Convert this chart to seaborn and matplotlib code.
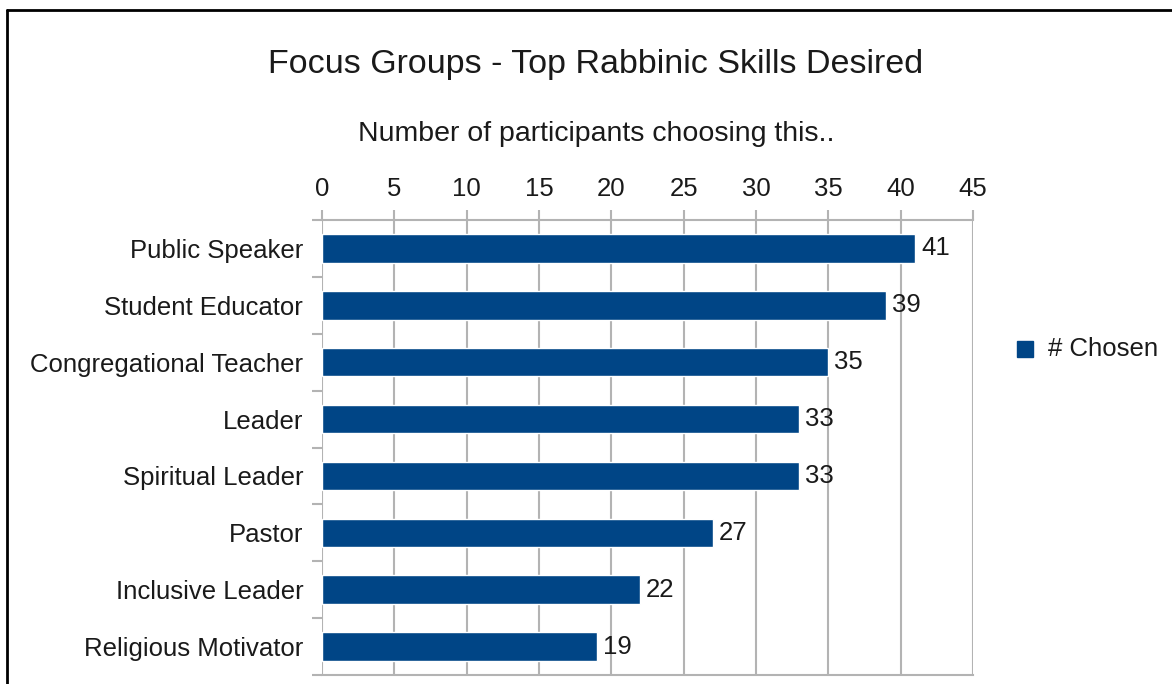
import matplotlib
matplotlib.use("Agg")
import matplotlib.pyplot as plt
import seaborn as sns
import pandas as pd
from matplotlib.lines import Line2D

categories = ["Public Speaker", "Student Educator", "Congregational Teacher", "Leader",
              "Spiritual Leader", "Pastor", "Inclusive Leader", "Religious Motivator"]
values = [41, 39, 35, 33, 33, 27, 22, 19]
xticks = [0, 5, 10, 15, 20, 25, 30, 35, 40, 45]
series_name = "# Chosen"

sns.set_theme(style="white")
plt.rcParams['font.family'] = ['Liberation Sans', 'DejaVu Sans']

W, H = 1172, 684
fig = plt.figure(figsize=(W / 100, H / 100), dpi=100)
ax = fig.add_axes([322 / W, 1 - 675 / H, (973 - 322) / W, (675 - 220) / H])

df = pd.DataFrame({"skill": categories, "count": values})
bar_color = "#004586"
sns.barplot(data=df, y="skill", x="count", orient="h", color=bar_color,
            width=0.5, ax=ax, saturation=1, zorder=3)

FS = 18.5
TXT = "#1a1a1a"
ax.set_xlim(0, 45)
ax.set_ylim(len(categories) - 0.5, -0.5)
ax.xaxis.tick_top()
ax.set_xticks(xticks)
ax.set_xticklabels([str(t) for t in xticks], fontsize=FS, color=TXT)
ax.set_xlabel("")
ax.set_ylabel("")
ax.grid(axis="x", color="#b3b3b3", linewidth=1.5, zorder=0)
ax.set_axisbelow(True)

for s in ["left", "right"]:
    ax.spines[s].set_visible(False)
for s in ["top", "bottom"]:
    ax.spines[s].set_color("#b3b3b3")
    ax.spines[s].set_linewidth(1.5)

ax.tick_params(axis="x", which="both", top=True, bottom=False, length=7.5,
               width=1.5, color="#b3b3b3", pad=6)
# y ticks at category boundaries
ax.set_yticks([i + 0.5 for i in range(-1, len(categories))], minor=True)
ax.set_yticks(range(len(categories)))
ax.set_yticklabels(categories, fontsize=FS, color=TXT)
ax.tick_params(axis="y", which="major", length=0, pad=13.5)
ax.tick_params(axis="y", which="minor", left=True, length=7.5, width=1.5, color="#b3b3b3")

for i, v in enumerate(values):
    ax.text(v + 0.4, i, str(v), va="center", ha="left", fontsize=FS, color=TXT, zorder=4)

fig.text(596 / W, 1 - 64 / H, "Focus Groups - Top Rabbinic Skills Desired",
         ha="center", va="center", fontsize=24.5, color=TXT)
fig.text(596 / W, 1 - 134 / H, "Number of participants choosing this..",
         ha="center", va="center", fontsize=20.5, color=TXT)

# legend
fig.patches.append(plt.Rectangle((1017 / W, 1 - 357 / H), 16 / W, 16 / H,
                                 transform=fig.transFigure, color=bar_color))
fig.text(1048 / W, 1 - 349 / H, series_name, ha="left", va="center",
         fontsize=FS, color=TXT)

# partial border
fig.add_artist(Line2D([7 / W, 7 / W], [0, 1 - 10 / H], transform=fig.transFigure,
                      color="black", linewidth=2))
fig.add_artist(Line2D([7 / W, 1], [1 - 10 / H, 1 - 10 / H], transform=fig.transFigure,
                      color="black", linewidth=2))

fig.savefig("out.png", dpi=100)
